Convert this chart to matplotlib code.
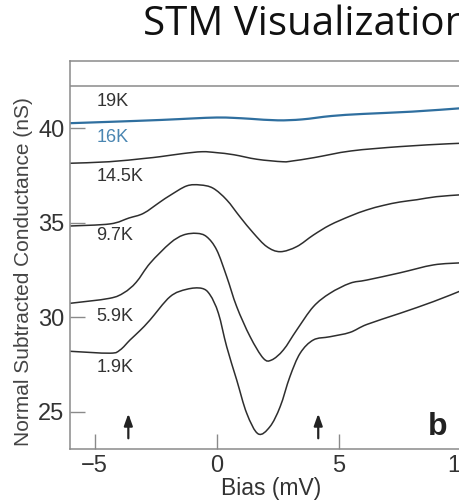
import matplotlib
matplotlib.use("Agg")
from matplotlib import pyplot as plt
from matplotlib.path import Path
from matplotlib.patches import PathPatch

# Кривые проводимости при разных температурах (смещение в мВ, проводимость в нС)
bias_19K = [-6.0, 10.0]
g_19K = [42.24, 42.24]

bias_16K = [-6.0, -4.4, -2.3, -1.0, 0.0, 0.7, 1.4, 2.5, 3.5, 4.7, 6.0, 8.0, 10.0]
g_16K = [40.27, 40.34, 40.44, 40.52, 40.57, 40.55, 40.50, 40.42, 40.47, 40.65, 40.76, 40.88, 41.06]

bias_14K = [-6.0, -4.4, -3.0, -2.3, -1.4, -0.6, 0.0, 0.7, 1.65, 2.7, 3.1, 4.0, 5.5, 7.5, 9.5, 10.0]
g_14K = [38.15, 38.23, 38.40, 38.50, 38.66, 38.76, 38.71, 38.60, 38.36, 38.23, 38.27, 38.45, 38.80, 39.03, 39.18, 39.20]

bias_9K = [-6.0, -4.37, -3.6, -3.0, -2.32, -1.91, -1.23, -0.68, -0.15, 0.41, 0.95, 1.5, 2.05, 2.6,
           3.28, 3.96, 4.64, 5.46, 6.15, 6.83, 7.51, 8.2, 9.0, 10.0]
g_9K = [34.83, 34.94, 35.25, 35.50, 36.10, 36.45, 36.95, 37.00, 36.83, 36.21, 35.32, 34.46, 33.74, 33.47,
        33.74, 34.35, 34.88, 35.35, 35.68, 35.92, 36.10, 36.22, 36.38, 36.48]

bias_6K = [-6.0, -4.4, -3.8, -3.3, -2.73, -1.91, -1.37, -0.82, -0.41, 0.0, 0.41, 0.82, 1.37, 1.91,
           2.25, 2.73, 3.28, 3.96, 4.64, 5.46, 6.15, 7.5, 8.88, 10.0]
g_6K = [30.74, 31.00, 31.30, 31.85, 32.86, 33.92, 34.35, 34.44, 34.26, 33.56, 32.15, 30.56, 28.97, 27.83,
        27.74, 28.27, 29.33, 30.56, 31.27, 31.80, 31.97, 32.35, 32.77, 32.88]

bias_2K = [-6.0, -4.37, -3.96, -3.55, -3.14, -2.73, -1.91, -1.23, -0.61, -0.27, 0.07, 0.41, 0.82, 1.23,
           1.7, 2.18, 2.6, 3.0, 3.42, 3.96, 4.64, 5.46, 6.15, 7.51, 8.88, 10.0]
g_2K = [28.20, 28.10, 28.27, 28.80, 29.30, 29.86, 31.09, 31.48, 31.53, 31.18, 30.21, 28.44, 26.68, 24.92,
        23.83, 24.21, 25.27, 26.86, 28.10, 28.80, 28.97, 29.20, 29.62, 30.21, 30.83, 31.40]

# подписи температур: текст и уровень по оси Y
temp_labels = ["19K", "16K", "14.5K", "9.7K", "5.9K", "1.9K"]
temp_label_y = [41.42, 39.49, 37.45, 34.35, 30.03, 27.32]

# стрелки у оси смещения
arrow_bias = [-3.62, 4.16]

x_ticks = [-5, 0, 5, 10]
y_ticks = [25, 30, 35, 40]


# гладкая кривая через все точки (сегменты Безье по схеме Катмулла-Рома)
def smooth_path(xs, ys):
    pts = list(zip(xs, ys))
    verts = [pts[0]]
    codes = [Path.MOVETO]
    n = len(pts)
    for i in range(n - 1):
        p0 = pts[i - 1] if i > 0 else pts[i]
        p1 = pts[i]
        p2 = pts[i + 1]
        p3 = pts[i + 2] if i + 2 < n else pts[i + 1]
        c1 = (p1[0] + (p2[0] - p0[0]) / 6, p1[1] + (p2[1] - p0[1]) / 6)
        c2 = (p2[0] - (p3[0] - p1[0]) / 6, p2[1] - (p3[1] - p1[1]) / 6)
        verts += [c1, c2, p2]
        codes += [Path.CURVE4] * 3
    return Path(verts, codes)


plt.rcParams['font.family'] = ['Liberation Sans', 'DejaVu Sans']

fig = plt.figure(figsize=(4.59, 5.0), dpi=100)
ax = fig.add_axes([70 / 459, 51 / 500, 403 / 459, 388 / 500])

dark = '#2e2e2e'
blue = '#2f6f9f'
frame = '#8a8a8a'

ax.plot(bias_19K, g_19K, color=frame, lw=1.1)
ax.add_patch(PathPatch(smooth_path(bias_16K, g_16K), fill=False, edgecolor=blue, lw=1.6))
for b, g in [(bias_14K, g_14K), (bias_9K, g_9K), (bias_6K, g_6K), (bias_2K, g_2K)]:
    ax.add_patch(PathPatch(smooth_path(b, g), fill=False, edgecolor=dark, lw=1.1))

for i, name in enumerate(temp_labels):
    c = '#4a86b2' if name == "16K" else '#333333'
    ax.text(-4.92, temp_label_y[i], name, fontsize=13, color=c, va='center', ha='left')

for xa in arrow_bias:
    ax.annotate("", xy=(xa, 25.05), xytext=(xa, 23.45),
                arrowprops=dict(arrowstyle='-|>,head_width=0.25,head_length=0.7',
                                color='#222222', lw=1.6))

ax.text(8.66, 23.77, "b", fontsize=23, fontweight='bold', color='#222222', va='baseline')

ax.set_xlim(-6.01, 10.5)
ax.set_ylim(23.03, 43.56)
ax.set_xticks(x_ticks)
ax.set_yticks(y_ticks)
ax.set_xticklabels(["\u22125", "0", "5", "10"])
ax.tick_params(direction='in', length=11, width=1, color=frame, labelsize=17,
               labelcolor='#333333', pad=4)
for s in ax.spines.values():
    s.set_color(frame)
    s.set_linewidth(1.1)

ax.set_xlabel("Bias (mV)", fontsize=16.5, color='#333333', labelpad=0)
fig.text(24 / 459, 1 - 272 / 500, "Normal Subtracted Conductance (nS)", rotation=90,
         fontsize=15, color='#444444', ha='center', va='center')

fig.text(143 / 459, 1 - 35 / 500, "STM Visualization", fontsize=29, family='Open Sans',
         color='#111111', ha='left', va='baseline')

fig.savefig("out.png", dpi=100)
